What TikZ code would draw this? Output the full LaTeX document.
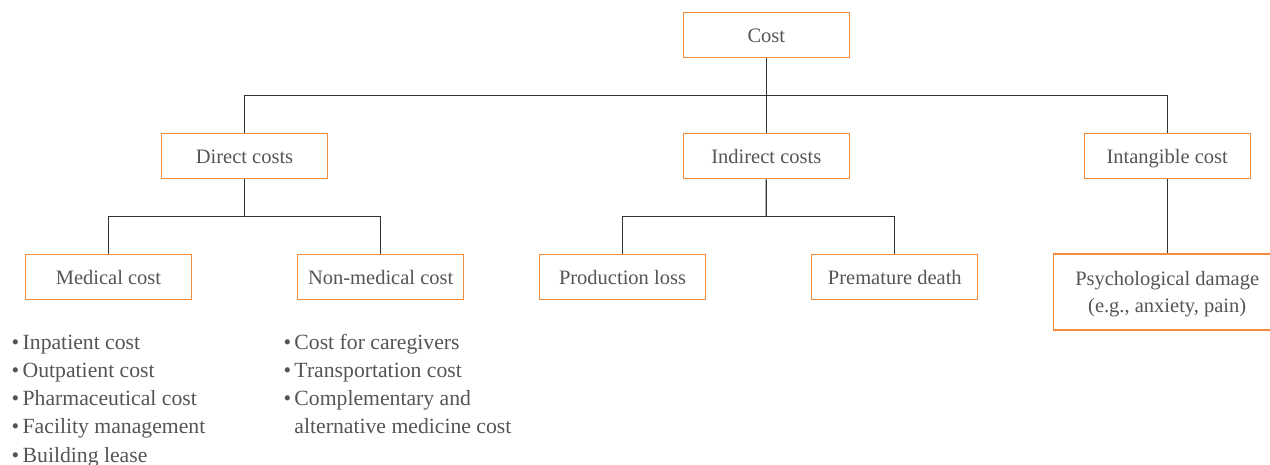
\documentclass[tikz,border=0pt]{standalone}
\usepackage{fontspec}
\setmainfont{Liberation Serif}
\usetikzlibrary{calc}
\definecolor{boxorange}{HTML}{F28C3C}
\definecolor{linegray}{HTML}{333333}
\definecolor{textgray}{HTML}{555555}
\tikzset{
  box/.style={draw=boxorange, line width=1.2pt, minimum width=166pt, minimum height=45.5pt, inner sep=0pt, text=textgray, font=\fontsize{20.5}{27.6}\selectfont, align=center, text height=17pt, text depth=2.4pt},
  conn/.style={draw=linegray, line width=1.2pt},
  item/.style={anchor=base west, inner sep=0pt, text=textgray, font=\fontsize{21.7}{28}\selectfont}
}
\newcommand{\bul}{•\hspace{3.4pt}}
\begin{document}
\begin{tikzpicture}[x=1pt,y=-1pt]
\clip (0,0) rectangle (1270,465);
\node[box] (cost) at (766.3,35) {Cost};
\node[box] (direct) at (244.5,156) {Direct costs};
\node[box] (indirect) at (766.3,156) {Indirect costs};
\node[box] (intangible) at (1167.2,156) {Intangible cost};
\node[box] (medical) at (108.5,277) {Medical cost};
\node[box] (nonmed) at (380.7,277) {Non-medical cost};
\node[box] (prodloss) at (622.5,277) {Production loss};
\node[box] (premature) at (894.8,277) {Premature death};
\node[box, minimum width=228pt, minimum height=76pt, text height=, text depth=0pt] (psych) at (1167.2,292) {Psychological damage\\(e.g., anxiety, pain)};
% connectors
\draw[conn] (cost.south) -- (indirect.north);
\draw[conn] (direct.north) |- ($(cost.south)!0.5!(indirect.north)$) -| (intangible.north);
\draw[conn] (direct.south) -- ($(direct.south)!0.5!(direct.south |- medical.north)$);
\draw[conn] (medical.north) |- ($(direct.south)!0.5!(direct.south |- medical.north)$) -| (nonmed.north);
\draw[conn] (indirect.south) -- ($(indirect.south)!0.5!(indirect.south |- prodloss.north)$);
\draw[conn] (prodloss.north) |- ($(indirect.south)!0.5!(indirect.south |- prodloss.north)$) -| (premature.north);
\draw[conn] (intangible.south) -- (psych.north);
% bullet lists
\node[item] (m1) at (11.5,349.3) {\bul Inpatient cost};
\node[item] (m2) at (11.5,377.5) {\bul Outpatient cost};
\node[item] (m3) at (11.5,405.7) {\bul Pharmaceutical cost};
\node[item] (m4) at (11.5,433.9) {\bul Facility management};
\node[item] (m5) at (11.5,462.1) {\bul Building lease};
\node[item] (n1) at (283.3,349.3) {\bul Cost for caregivers};
\node[item] (n2) at (283.3,377.5) {\bul Transportation cost};
\node[item] (n3) at (283.3,405.7) {\bul Complementary and};
\node[item] (n4) at (283.3,433.9) {\phantom{\bul}alternative medicine cost};
\end{tikzpicture}
\end{document}
